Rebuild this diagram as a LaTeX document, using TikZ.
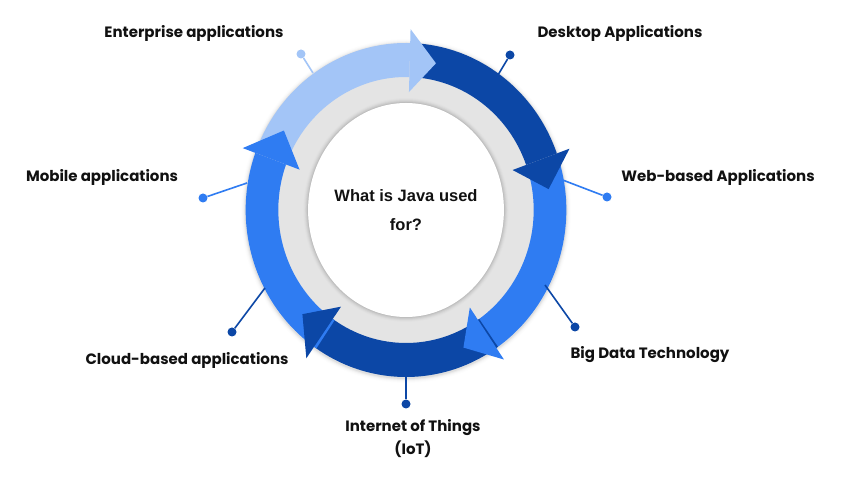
\documentclass[tikz,border=0pt]{standalone}
\usepackage{fontspec}
\setmainfont{Liberation Sans}
\newfontfamily\lblfont{Poppins}
\definecolor{lightb}{HTML}{A3C5F7}
\definecolor{darkb}{HTML}{0C47A6}
\definecolor{midb}{HTML}{2F7CF2}
\definecolor{ringgray}{HTML}{E4E4E4}
\definecolor{txt}{HTML}{111111}
\newcommand\bandbody[3]{\fill[#1] (#2:167) arc[start angle=#2, end angle=#3, radius=167] -- (#3:133) arc[start angle=#3, end angle=#2, radius=133] -- cycle;}
\newcommand\bandhead[3]{\fill[#1] (#2:118) -- (#2:181) -- (#3:150) -- cycle;}
\begin{document}
\begin{tikzpicture}[x=1pt,y=1pt,
 lbl/.style={font=\lblfont\bfseries\fontsize{15}{18}\selectfont, text=txt, inner sep=0pt},
 pindot/.style={circle, fill=#1, minimum size=9pt, inner sep=0pt},
 pinline/.style={draw=#1, line width=1.6pt},
]
\useasboundingbox (0,0) rectangle (846,478);
\fill[white] (0,0) rectangle (846,478);
\begin{scope}[shift={(406,268)}, xscale=0.96]
 \foreach \i/\o in {1/0.05,2/0.035,3/0.02,4/0.012,5/0.006}
   \fill[black,opacity=\o] (0,-1) circle[radius=167+\i];
 \fill[ringgray] (0,0) circle[radius=150];
 \foreach \i/\o in {1/0.06,2/0.045,3/0.03,4/0.02,5/0.01}
   \fill[black,opacity=\o] (0,0) ellipse[x radius=102+\i, y radius=107+\i];
 \fill[white] (0,0) ellipse[x radius=102, y radius=107];
 % band bodies
 \bandbody{lightb}{159}{88.5}
 \bandbody{darkb}{87.5}{19.8}
 \bandbody{midb}{19}{-55.7}
 \bandbody{darkb}{-55}{-125}
 \bandbody{midb}{-124}{-200}
 % heads
 \bandhead{lightb}{88.5}{78}
 \bandhead{darkb}{19.8}{8}
 \bandhead{midb}{-55.7}{-66.5}
 \bandhead{darkb}{-125}{-136}
 \bandhead{midb}{160}{148}
\end{scope}
% centre text
\node[font=\bfseries\fontsize{16.5}{29}\selectfont, text=txt, align=center] (centre) at (406,268) {What is Java used\\for?};
% pins
\coordinate (eE) at (313,405);
\coordinate (dE) at (498,403);
\coordinate (wE) at (560,299);
\coordinate (bE) at (545,193);
\coordinate (iE) at (406,101);
\coordinate (cE) at (265,190);
\coordinate (mE) at (247,295);
\node[pindot=lightb] (eD) at (301,424) {};
\node[pindot=darkb] (dD) at (510,423) {};
\node[pindot=midb] (wD) at (607,281) {};
\node[pindot=darkb] (bD) at (575,151) {};
\node[pindot=darkb] (iD) at (406,74) {};
\node[pindot=darkb] (cD) at (232,146) {};
\node[pindot=midb] (mD) at (203,280) {};
\draw[pinline=lightb] (eE) -- (eD);
\draw[pinline=darkb] (dE) -- (dD);
\draw[pinline=midb] (wE) -- (wD);
\draw[pinline=darkb] (bE) -- (bD);
\draw[pinline=darkb] (iE) -- (iD);
\draw[pinline=darkb] (cE) -- (cD);
\draw[pinline=midb] (mE) -- (mD);
% labels
\node[lbl] (eL) at (194,445) {Enterprise applications};
\node[lbl] (dL) at (620,445) {Desktop Applications};
\node[lbl] (mL) at (102,301) {Mobile applications};
\node[lbl] (wL) at (718,301) {Web-based Applications};
\node[lbl] (cL) at (187,118) {Cloud-based applications};
\node[lbl] (bL) at (650,123) {Big Data Technology};
\node[lbl, align=center, font=\lblfont\bfseries\fontsize{15}{23}\selectfont] (iL) at (413,39.5) {Internet of Things\\(IoT)};
\end{tikzpicture}
\end{document}
